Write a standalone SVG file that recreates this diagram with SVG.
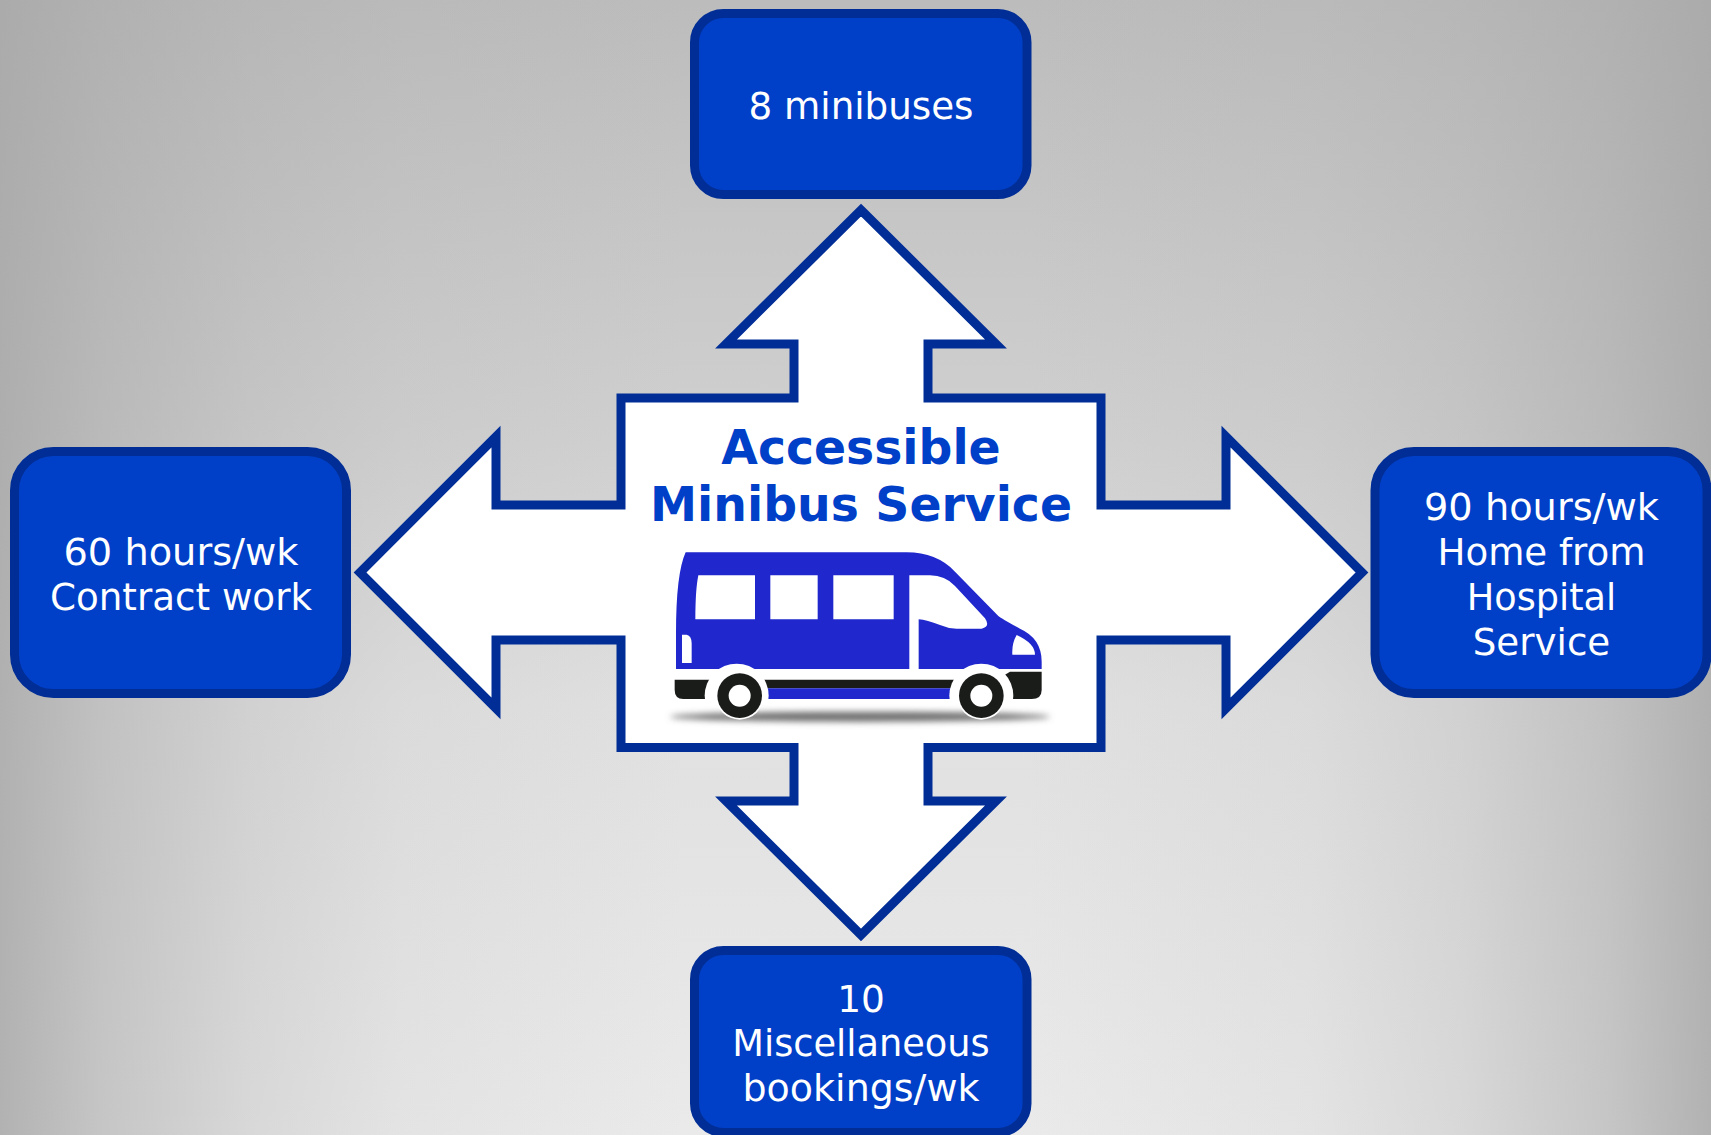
<svg xmlns="http://www.w3.org/2000/svg" width="1711" height="1135" viewBox="0 0 1711 1135">
<defs>
<linearGradient id="vert" x1="0" y1="0" x2="0" y2="1">
<stop offset="0" stop-color="#bcbcbc"/><stop offset="0.39" stop-color="#d0d0d0"/><stop offset="0.62" stop-color="#e0e0e0"/><stop offset="1" stop-color="#eaeaea"/>
</linearGradient>
<linearGradient id="side" x1="0" y1="0" x2="1" y2="0">
<stop offset="0" stop-color="#a8a8a8" stop-opacity="0.85"/><stop offset="0.06" stop-color="#a8a8a8" stop-opacity="0.55"/><stop offset="0.146" stop-color="#a8a8a8" stop-opacity="0.27"/><stop offset="0.234" stop-color="#a8a8a8" stop-opacity="0.1"/><stop offset="0.4" stop-color="#a8a8a8" stop-opacity="0"/><stop offset="0.6" stop-color="#a8a8a8" stop-opacity="0"/><stop offset="0.766" stop-color="#a8a8a8" stop-opacity="0.1"/><stop offset="0.854" stop-color="#a8a8a8" stop-opacity="0.27"/><stop offset="0.94" stop-color="#a8a8a8" stop-opacity="0.55"/><stop offset="1" stop-color="#a8a8a8" stop-opacity="0.85"/>
</linearGradient>
<filter id="blur" x="-10%" y="-150%" width="120%" height="400%"><feGaussianBlur stdDeviation="10"/></filter>
<style>
.box{fill:#0040c8;stroke:#002e96;stroke-width:9}
.lbl{font-family:"DejaVu Sans",Verdana,sans-serif;font-size:37.5px;fill:#fff;text-anchor:middle}
.title{font-family:"DejaVu Sans","Liberation Sans",sans-serif;font-weight:bold;font-size:47.3px;fill:#0040c8;text-anchor:middle}
.blue{fill:#1f27cd}.blk{fill:#1a1c1a}.wht{fill:#fff}
</style>
</defs>
<rect id="background" width="1711" height="1135" fill="url(#vert)"/>
<rect width="1711" height="1135" fill="url(#side)"/>

<g id="connectors">
<path id="cross-arrow" d="M861 210L996 344H928V398H1101V505H1226V436.5L1362 572.5L1226 708.5V640H1101V747.5H928V801H996L861 935L726 801H794V747.5H621V640H496V708.5L360 572.5L496 436.5V505H621V398H794V344H726Z" fill="#fff" stroke="#002e96" stroke-width="9"/>
</g>

<g id="node-top"><rect class="box" x="694.5" y="13.5" width="332.5" height="181" rx="29"/>
<text class="lbl" x="861" y="119" textLength="225" lengthAdjust="spacingAndGlyphs">8 minibuses</text></g>

<g id="node-left"><rect class="box" x="14.5" y="451.5" width="332" height="242" rx="39"/>
<text class="lbl" x="181" y="565" textLength="235" lengthAdjust="spacingAndGlyphs">60 hours/wk</text><text class="lbl" x="181" y="610" textLength="262" lengthAdjust="spacingAndGlyphs">Contract work</text></g>

<g id="node-right"><rect class="box" x="1375" y="451.5" width="332" height="242" rx="39"/>
<text class="lbl" x="1541.5" y="520" textLength="235" lengthAdjust="spacingAndGlyphs">90 hours/wk</text><text class="lbl" x="1541.5" y="565" textLength="208" lengthAdjust="spacingAndGlyphs">Home from</text><text class="lbl" x="1541.5" y="610" textLength="149.5" lengthAdjust="spacingAndGlyphs">Hospital</text><text class="lbl" x="1541.5" y="655" textLength="137.5" lengthAdjust="spacingAndGlyphs">Service</text></g>

<g id="node-bottom"><rect class="box" x="694.5" y="950.5" width="332.5" height="182" rx="29"/>
<text class="lbl" x="861" y="1012">10</text><text class="lbl" x="861" y="1056" textLength="257.5" lengthAdjust="spacingAndGlyphs">Miscellaneous</text><text class="lbl" x="861" y="1101" textLength="237" lengthAdjust="spacingAndGlyphs">bookings/wk</text></g>

<g id="node-center">
<text class="title" x="861" y="464">Accessible</text><text class="title" x="861" y="521">Minibus Service</text>
<g id="minibus" transform="translate(640 520) scale(0.33333)">
<path class="blue" d="M137 97H800Q890 97 945 155L1075 288Q1085 296 1140 326Q1205 355 1205 425V447H108V340Q108 160 137 97Z"/>
<path class="wht" d="M175 166H345V298H166Q166 210 175 166ZM391 166H533V298H391ZM580 166H761V298H580ZM808 166H870Q915 166 945 198L1035 295Q1052 320 1025 326H950Q925 326 900 315Q860 300 836 298V447H808ZM1130 345Q1185 370 1185 404H1117Q1115 370 1130 345ZM126 344H140Q155 348 155 370V429H126Z"/>
<path class="blk" d="M104 479H230V537H130Q104 537 104 510Z"/>
<path class="blk" d="M370 479H950V505H370Z"/>
<path class="blue" d="M370 505H950V537H370Z"/>
<path class="blk" d="M1090 467L1110 455H1205V510Q1205 537 1175 537H1090Z"/>
<circle class="wht" cx="290" cy="527" r="96"/><circle class="wht" cx="1024" cy="527" r="96"/>
<ellipse cx="660" cy="590" rx="570" ry="15" fill="#6e6e6e" filter="url(#blur)"/>
<circle class="wht" cx="299" cy="527" r="72"/><circle class="wht" cx="1024" cy="527" r="72"/>
<circle class="blk" cx="299" cy="527" r="67"/><circle class="wht" cx="299" cy="527" r="33"/>
<circle class="blk" cx="1024" cy="527" r="67"/><circle class="wht" cx="1024" cy="527" r="33"/>
</g>
</g>
</svg>
